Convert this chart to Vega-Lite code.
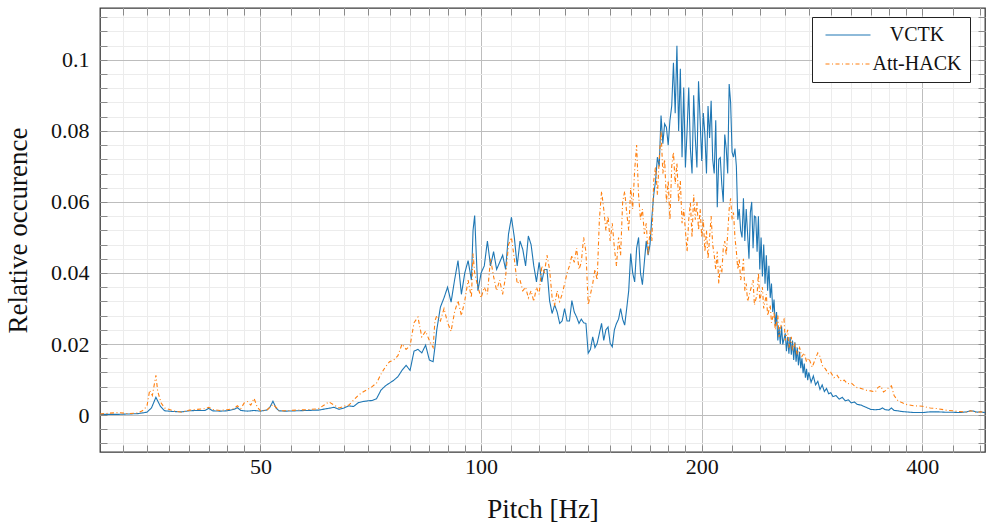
{
"$schema": "https://vega.github.io/schema/vega-lite/v6.json",
"width": 885, "height": 444,
"autosize": {"type": "none"},
"padding": {"left": 100, "top": 8, "right": 2, "bottom": 78},
"background": "white",
"config": {
  "view": {"stroke": "#3a3a3a", "strokeWidth": 1.3},
  "axis": {"domain": false, "labelFont": "Liberation Serif", "labelFontSize": 22, "labelColor": "#111", "titleFont": "Liberation Serif", "titleFontSize": 27, "titleFontWeight": "normal", "titleColor": "#111", "tickColor": "#8a8a8a", "tickWidth": 1, "gridWidth": 1}
},
"datasets": {"pitch": [
{"s":"VCTK","hz":30.2,"v":0.0002},{"s":"VCTK","hz":31,"v":0.0002},{"s":"VCTK","hz":32,"v":0.0002},{"s":"VCTK","hz":33,"v":0.0003},{"s":"VCTK","hz":34,"v":0.0004},{"s":"VCTK","hz":35,"v":0.0008},{"s":"VCTK","hz":35.5,"v":0.002},{"s":"VCTK","hz":36,"v":0.005},{"s":"VCTK","hz":36.5,"v":0.0025},{"s":"VCTK","hz":37,"v":0.0012},{"s":"VCTK","hz":38,"v":0.001},{"s":"VCTK","hz":39,"v":0.0009},{"s":"VCTK","hz":40,"v":0.0012},{"s":"VCTK","hz":41,"v":0.0013},{"s":"VCTK","hz":42,"v":0.0013},{"s":"VCTK","hz":42.5,"v":0.0019},{"s":"VCTK","hz":43,"v":0.0012},{"s":"VCTK","hz":44,"v":0.0011},{"s":"VCTK","hz":45,"v":0.0012},{"s":"VCTK","hz":46,"v":0.0016},{"s":"VCTK","hz":46.5,"v":0.0021},{"s":"VCTK","hz":47,"v":0.0013},{"s":"VCTK","hz":48,"v":0.0011},{"s":"VCTK","hz":49,"v":0.0013},{"s":"VCTK","hz":50,"v":0.0011},{"s":"VCTK","hz":51,"v":0.0014},{"s":"VCTK","hz":51.5,"v":0.0022},{"s":"VCTK","hz":52,"v":0.0039},{"s":"VCTK","hz":52.5,"v":0.002},{"s":"VCTK","hz":53,"v":0.0012},{"s":"VCTK","hz":54,"v":0.0011},{"s":"VCTK","hz":56,"v":0.0012},{"s":"VCTK","hz":58,"v":0.0013},{"s":"VCTK","hz":60,"v":0.0014},{"s":"VCTK","hz":62,"v":0.0019},{"s":"VCTK","hz":63,"v":0.0022},{"s":"VCTK","hz":64,"v":0.0016},{"s":"VCTK","hz":65,"v":0.002},{"s":"VCTK","hz":66,"v":0.0026},{"s":"VCTK","hz":67,"v":0.0024},{"s":"VCTK","hz":68,"v":0.0035},{"s":"VCTK","hz":69,"v":0.0038},{"s":"VCTK","hz":70,"v":0.004},{"s":"VCTK","hz":71,"v":0.0041},{"s":"VCTK","hz":72,"v":0.0046},{"s":"VCTK","hz":73,"v":0.007},{"s":"VCTK","hz":74,"v":0.0082},{"s":"VCTK","hz":75,"v":0.009},{"s":"VCTK","hz":76,"v":0.0098},{"s":"VCTK","hz":77,"v":0.0108},{"s":"VCTK","hz":78,"v":0.0126},{"s":"VCTK","hz":79,"v":0.014},{"s":"VCTK","hz":80,"v":0.0126},{"s":"VCTK","hz":81,"v":0.018},{"s":"VCTK","hz":82,"v":0.0185},{"s":"VCTK","hz":83,"v":0.0175},{"s":"VCTK","hz":84,"v":0.0197},{"s":"VCTK","hz":85,"v":0.0155},{"s":"VCTK","hz":86,"v":0.015},{"s":"VCTK","hz":86.5,"v":0.0192},{"s":"VCTK","hz":87,"v":0.024},{"s":"VCTK","hz":88,"v":0.0304},{"s":"VCTK","hz":89,"v":0.033},{"s":"VCTK","hz":90,"v":0.036},{"s":"VCTK","hz":91,"v":0.0318},{"s":"VCTK","hz":92,"v":0.038},{"s":"VCTK","hz":93,"v":0.0435},{"s":"VCTK","hz":94,"v":0.034},{"s":"VCTK","hz":95,"v":0.04},{"s":"VCTK","hz":96,"v":0.0435},{"s":"VCTK","hz":97,"v":0.038},{"s":"VCTK","hz":97.5,"v":0.052},{"s":"VCTK","hz":98,"v":0.0562},{"s":"VCTK","hz":98.5,"v":0.045},{"s":"VCTK","hz":99,"v":0.035},{"s":"VCTK","hz":100,"v":0.04},{"s":"VCTK","hz":101,"v":0.042},{"s":"VCTK","hz":102,"v":0.049},{"s":"VCTK","hz":103,"v":0.042},{"s":"VCTK","hz":104,"v":0.046},{"s":"VCTK","hz":105,"v":0.041},{"s":"VCTK","hz":106,"v":0.043},{"s":"VCTK","hz":107,"v":0.045},{"s":"VCTK","hz":108,"v":0.041},{"s":"VCTK","hz":109,"v":0.051},{"s":"VCTK","hz":110,"v":0.0557},{"s":"VCTK","hz":111,"v":0.05},{"s":"VCTK","hz":112,"v":0.042},{"s":"VCTK","hz":113,"v":0.049},{"s":"VCTK","hz":114,"v":0.0466},{"s":"VCTK","hz":115,"v":0.042},{"s":"VCTK","hz":116,"v":0.0504},{"s":"VCTK","hz":117,"v":0.048},{"s":"VCTK","hz":118,"v":0.042},{"s":"VCTK","hz":119,"v":0.0375},{"s":"VCTK","hz":120,"v":0.043},{"s":"VCTK","hz":121,"v":0.0375},{"s":"VCTK","hz":122,"v":0.041},{"s":"VCTK","hz":123,"v":0.041},{"s":"VCTK","hz":124,"v":0.0322},{"s":"VCTK","hz":125,"v":0.0286},{"s":"VCTK","hz":126,"v":0.031},{"s":"VCTK","hz":127,"v":0.029},{"s":"VCTK","hz":128,"v":0.0258},{"s":"VCTK","hz":129,"v":0.0265},{"s":"VCTK","hz":130,"v":0.03},{"s":"VCTK","hz":131,"v":0.0265},{"s":"VCTK","hz":132,"v":0.0265},{"s":"VCTK","hz":133,"v":0.0322},{"s":"VCTK","hz":134,"v":0.029},{"s":"VCTK","hz":135,"v":0.0276},{"s":"VCTK","hz":136,"v":0.0258},{"s":"VCTK","hz":137,"v":0.027},{"s":"VCTK","hz":138,"v":0.026},{"s":"VCTK","hz":139,"v":0.0258},{"s":"VCTK","hz":140,"v":0.0174},{"s":"VCTK","hz":141,"v":0.0185},{"s":"VCTK","hz":142,"v":0.022},{"s":"VCTK","hz":143,"v":0.019},{"s":"VCTK","hz":144,"v":0.0202},{"s":"VCTK","hz":145,"v":0.023},{"s":"VCTK","hz":146,"v":0.0258},{"s":"VCTK","hz":147,"v":0.021},{"s":"VCTK","hz":148,"v":0.024},{"s":"VCTK","hz":149,"v":0.0248},{"s":"VCTK","hz":150,"v":0.0202},{"s":"VCTK","hz":151,"v":0.0192},{"s":"VCTK","hz":152,"v":0.024},{"s":"VCTK","hz":153,"v":0.0258},{"s":"VCTK","hz":154,"v":0.027},{"s":"VCTK","hz":155,"v":0.03},{"s":"VCTK","hz":156,"v":0.027},{"s":"VCTK","hz":157,"v":0.0253},{"s":"VCTK","hz":158,"v":0.03},{"s":"VCTK","hz":159,"v":0.035},{"s":"VCTK","hz":160,"v":0.0455},{"s":"VCTK","hz":161,"v":0.04},{"s":"VCTK","hz":162,"v":0.0375},{"s":"VCTK","hz":163,"v":0.047},{"s":"VCTK","hz":164,"v":0.05},{"s":"VCTK","hz":165,"v":0.04},{"s":"VCTK","hz":166,"v":0.0367},{"s":"VCTK","hz":167,"v":0.043},{"s":"VCTK","hz":168,"v":0.049},{"s":"VCTK","hz":169,"v":0.045},{"s":"VCTK","hz":170,"v":0.048},{"s":"VCTK","hz":171,"v":0.0557},{"s":"VCTK","hz":172,"v":0.062},{"s":"VCTK","hz":173,"v":0.066},{"s":"VCTK","hz":174,"v":0.0726},{"s":"VCTK","hz":175,"v":0.07},{"s":"VCTK","hz":176,"v":0.0843},{"s":"VCTK","hz":177,"v":0.0764},{"s":"VCTK","hz":178,"v":0.082},{"s":"VCTK","hz":179,"v":0.081},{"s":"VCTK","hz":180,"v":0.076},{"s":"VCTK","hz":181,"v":0.083},{"s":"VCTK","hz":182,"v":0.087},{"s":"VCTK","hz":183,"v":0.0992},{"s":"VCTK","hz":184,"v":0.085},{"s":"VCTK","hz":185,"v":0.104},{"s":"VCTK","hz":186,"v":0.08},{"s":"VCTK","hz":187,"v":0.0975},{"s":"VCTK","hz":188,"v":0.0726},{"s":"VCTK","hz":189,"v":0.0922},{"s":"VCTK","hz":190,"v":0.0697},{"s":"VCTK","hz":191,"v":0.08},{"s":"VCTK","hz":192,"v":0.0922},{"s":"VCTK","hz":193,"v":0.075},{"s":"VCTK","hz":194,"v":0.068},{"s":"VCTK","hz":195,"v":0.09},{"s":"VCTK","hz":196,"v":0.078},{"s":"VCTK","hz":197,"v":0.0697},{"s":"VCTK","hz":198,"v":0.094},{"s":"VCTK","hz":199,"v":0.083},{"s":"VCTK","hz":200,"v":0.0715},{"s":"VCTK","hz":201,"v":0.085},{"s":"VCTK","hz":202,"v":0.079},{"s":"VCTK","hz":203,"v":0.068},{"s":"VCTK","hz":204,"v":0.087},{"s":"VCTK","hz":205,"v":0.078},{"s":"VCTK","hz":206,"v":0.0885},{"s":"VCTK","hz":207,"v":0.072},{"s":"VCTK","hz":208,"v":0.068},{"s":"VCTK","hz":209,"v":0.083},{"s":"VCTK","hz":210,"v":0.0585},{"s":"VCTK","hz":211,"v":0.072},{"s":"VCTK","hz":212,"v":0.0725},{"s":"VCTK","hz":213,"v":0.065},{"s":"VCTK","hz":214,"v":0.06},{"s":"VCTK","hz":215,"v":0.079},{"s":"VCTK","hz":216,"v":0.075},{"s":"VCTK","hz":217,"v":0.068},{"s":"VCTK","hz":218,"v":0.0932},{"s":"VCTK","hz":219,"v":0.088},{"s":"VCTK","hz":220,"v":0.074},{"s":"VCTK","hz":221,"v":0.0726},{"s":"VCTK","hz":222,"v":0.075},{"s":"VCTK","hz":223,"v":0.07},{"s":"VCTK","hz":224,"v":0.055},{"s":"VCTK","hz":225,"v":0.058},{"s":"VCTK","hz":226,"v":0.052},{"s":"VCTK","hz":227,"v":0.05},{"s":"VCTK","hz":228,"v":0.061},{"s":"VCTK","hz":229,"v":0.049},{"s":"VCTK","hz":230,"v":0.058},{"s":"VCTK","hz":231,"v":0.051},{"s":"VCTK","hz":232,"v":0.044},{"s":"VCTK","hz":233,"v":0.057},{"s":"VCTK","hz":234,"v":0.06},{"s":"VCTK","hz":235,"v":0.047},{"s":"VCTK","hz":236,"v":0.056},{"s":"VCTK","hz":237,"v":0.0557},{"s":"VCTK","hz":238,"v":0.046},{"s":"VCTK","hz":239,"v":0.056},{"s":"VCTK","hz":240,"v":0.041},{"s":"VCTK","hz":241,"v":0.05},{"s":"VCTK","hz":242,"v":0.039},{"s":"VCTK","hz":243,"v":0.048},{"s":"VCTK","hz":244,"v":0.037},{"s":"VCTK","hz":245,"v":0.045},{"s":"VCTK","hz":246,"v":0.035},{"s":"VCTK","hz":247,"v":0.042},{"s":"VCTK","hz":248,"v":0.033},{"s":"VCTK","hz":249,"v":0.037},{"s":"VCTK","hz":250,"v":0.029},{"s":"VCTK","hz":251,"v":0.0325},{"s":"VCTK","hz":252,"v":0.025},{"s":"VCTK","hz":253,"v":0.029},{"s":"VCTK","hz":254,"v":0.021},{"s":"VCTK","hz":255,"v":0.0248},{"s":"VCTK","hz":256,"v":0.02},{"s":"VCTK","hz":257,"v":0.025},{"s":"VCTK","hz":258,"v":0.0199},{"s":"VCTK","hz":260,"v":0.023},{"s":"VCTK","hz":261,"v":0.018},{"s":"VCTK","hz":262,"v":0.022},{"s":"VCTK","hz":263,"v":0.0173},{"s":"VCTK","hz":264,"v":0.022},{"s":"VCTK","hz":265,"v":0.017},{"s":"VCTK","hz":266,"v":0.021},{"s":"VCTK","hz":267,"v":0.0155},{"s":"VCTK","hz":268,"v":0.0205},{"s":"VCTK","hz":269,"v":0.015},{"s":"VCTK","hz":270,"v":0.019},{"s":"VCTK","hz":271,"v":0.014},{"s":"VCTK","hz":272,"v":0.0178},{"s":"VCTK","hz":273,"v":0.0132},{"s":"VCTK","hz":274,"v":0.016},{"s":"VCTK","hz":275,"v":0.0118},{"s":"VCTK","hz":276,"v":0.0145},{"s":"VCTK","hz":277,"v":0.0105},{"s":"VCTK","hz":278,"v":0.013},{"s":"VCTK","hz":279,"v":0.0098},{"s":"VCTK","hz":280,"v":0.012},{"s":"VCTK","hz":282,"v":0.0092},{"s":"VCTK","hz":284,"v":0.011},{"s":"VCTK","hz":286,"v":0.0085},{"s":"VCTK","hz":288,"v":0.0095},{"s":"VCTK","hz":290,"v":0.0072},{"s":"VCTK","hz":292,"v":0.0085},{"s":"VCTK","hz":294,"v":0.0066},{"s":"VCTK","hz":296,"v":0.0075},{"s":"VCTK","hz":298,"v":0.006},{"s":"VCTK","hz":300,"v":0.0063},{"s":"VCTK","hz":302,"v":0.0052},{"s":"VCTK","hz":305,"v":0.0055},{"s":"VCTK","hz":308,"v":0.0045},{"s":"VCTK","hz":311,"v":0.005},{"s":"VCTK","hz":314,"v":0.004},{"s":"VCTK","hz":317,"v":0.0043},{"s":"VCTK","hz":320,"v":0.0034},{"s":"VCTK","hz":323,"v":0.0037},{"s":"VCTK","hz":326,"v":0.003},{"s":"VCTK","hz":330,"v":0.0028},{"s":"VCTK","hz":335,"v":0.0022},{"s":"VCTK","hz":340,"v":0.0016},{"s":"VCTK","hz":345,"v":0.0015},{"s":"VCTK","hz":350,"v":0.0016},{"s":"VCTK","hz":353,"v":0.002},{"s":"VCTK","hz":356,"v":0.0015},{"s":"VCTK","hz":360,"v":0.0014},{"s":"VCTK","hz":363,"v":0.002},{"s":"VCTK","hz":366,"v":0.0013},{"s":"VCTK","hz":370,"v":0.0012},{"s":"VCTK","hz":375,"v":0.001},{"s":"VCTK","hz":380,"v":0.0009},{"s":"VCTK","hz":390,"v":0.0007},{"s":"VCTK","hz":400,"v":0.0007},{"s":"VCTK","hz":410,"v":0.0009},{"s":"VCTK","hz":420,"v":0.0009},{"s":"VCTK","hz":430,"v":0.0008},{"s":"VCTK","hz":440,"v":0.0008},{"s":"VCTK","hz":450,"v":0.0007},{"s":"VCTK","hz":460,"v":0.0009},{"s":"VCTK","hz":465,"v":0.0012},{"s":"VCTK","hz":470,"v":0.0011},{"s":"VCTK","hz":475,"v":0.0008},{"s":"VCTK","hz":480,"v":0.0009},{"s":"VCTK","hz":487,"v":0.0007},
{"s":"Att-HACK","hz":30.2,"v":0.0003},{"s":"Att-HACK","hz":31,"v":0.0005},{"s":"Att-HACK","hz":32,"v":0.0007},{"s":"Att-HACK","hz":33,"v":0.0004},{"s":"Att-HACK","hz":34,"v":0.0006},{"s":"Att-HACK","hz":34.5,"v":0.0012},{"s":"Att-HACK","hz":35,"v":0.0025},{"s":"Att-HACK","hz":35.3,"v":0.007},{"s":"Att-HACK","hz":35.6,"v":0.0055},{"s":"Att-HACK","hz":36,"v":0.0112},{"s":"Att-HACK","hz":36.2,"v":0.0067},{"s":"Att-HACK","hz":36.6,"v":0.0034},{"s":"Att-HACK","hz":37,"v":0.002},{"s":"Att-HACK","hz":38,"v":0.0012},{"s":"Att-HACK","hz":39,"v":0.0008},{"s":"Att-HACK","hz":40,"v":0.0014},{"s":"Att-HACK","hz":41,"v":0.0016},{"s":"Att-HACK","hz":42,"v":0.0018},{"s":"Att-HACK","hz":42.5,"v":0.0022},{"s":"Att-HACK","hz":43,"v":0.0016},{"s":"Att-HACK","hz":44,"v":0.0013},{"s":"Att-HACK","hz":45,"v":0.0015},{"s":"Att-HACK","hz":46,"v":0.0018},{"s":"Att-HACK","hz":46.5,"v":0.0026},{"s":"Att-HACK","hz":47,"v":0.0018},{"s":"Att-HACK","hz":47.5,"v":0.0034},{"s":"Att-HACK","hz":48,"v":0.0038},{"s":"Att-HACK","hz":48.5,"v":0.0028},{"s":"Att-HACK","hz":49,"v":0.0047},{"s":"Att-HACK","hz":49.5,"v":0.0022},{"s":"Att-HACK","hz":50,"v":0.0012},{"s":"Att-HACK","hz":51,"v":0.0014},{"s":"Att-HACK","hz":51.5,"v":0.0022},{"s":"Att-HACK","hz":52,"v":0.003},{"s":"Att-HACK","hz":52.5,"v":0.0022},{"s":"Att-HACK","hz":53,"v":0.0012},{"s":"Att-HACK","hz":54,"v":0.0012},{"s":"Att-HACK","hz":56,"v":0.0014},{"s":"Att-HACK","hz":58,"v":0.0015},{"s":"Att-HACK","hz":60,"v":0.0018},{"s":"Att-HACK","hz":62,"v":0.0037},{"s":"Att-HACK","hz":63,"v":0.0028},{"s":"Att-HACK","hz":64,"v":0.002},{"s":"Att-HACK","hz":65,"v":0.0025},{"s":"Att-HACK","hz":66,"v":0.0028},{"s":"Att-HACK","hz":67,"v":0.0042},{"s":"Att-HACK","hz":68,"v":0.0056},{"s":"Att-HACK","hz":69,"v":0.0065},{"s":"Att-HACK","hz":70,"v":0.0072},{"s":"Att-HACK","hz":71,"v":0.008},{"s":"Att-HACK","hz":72,"v":0.009},{"s":"Att-HACK","hz":73,"v":0.0115},{"s":"Att-HACK","hz":74,"v":0.0135},{"s":"Att-HACK","hz":75,"v":0.015},{"s":"Att-HACK","hz":76,"v":0.0155},{"s":"Att-HACK","hz":77,"v":0.0167},{"s":"Att-HACK","hz":78,"v":0.02},{"s":"Att-HACK","hz":79,"v":0.0185},{"s":"Att-HACK","hz":80,"v":0.0195},{"s":"Att-HACK","hz":81,"v":0.026},{"s":"Att-HACK","hz":82,"v":0.0276},{"s":"Att-HACK","hz":83,"v":0.022},{"s":"Att-HACK","hz":84,"v":0.0236},{"s":"Att-HACK","hz":85,"v":0.021},{"s":"Att-HACK","hz":86,"v":0.019},{"s":"Att-HACK","hz":86.5,"v":0.0265},{"s":"Att-HACK","hz":87,"v":0.028},{"s":"Att-HACK","hz":88,"v":0.0265},{"s":"Att-HACK","hz":89,"v":0.03},{"s":"Att-HACK","hz":90,"v":0.026},{"s":"Att-HACK","hz":91,"v":0.0236},{"s":"Att-HACK","hz":92,"v":0.029},{"s":"Att-HACK","hz":93,"v":0.0322},{"s":"Att-HACK","hz":94,"v":0.028},{"s":"Att-HACK","hz":95,"v":0.0322},{"s":"Att-HACK","hz":96,"v":0.038},{"s":"Att-HACK","hz":97,"v":0.033},{"s":"Att-HACK","hz":97.5,"v":0.0455},{"s":"Att-HACK","hz":98,"v":0.04},{"s":"Att-HACK","hz":99,"v":0.036},{"s":"Att-HACK","hz":100,"v":0.033},{"s":"Att-HACK","hz":101,"v":0.036},{"s":"Att-HACK","hz":102,"v":0.034},{"s":"Att-HACK","hz":103,"v":0.044},{"s":"Att-HACK","hz":104,"v":0.039},{"s":"Att-HACK","hz":105,"v":0.035},{"s":"Att-HACK","hz":106,"v":0.038},{"s":"Att-HACK","hz":107,"v":0.034},{"s":"Att-HACK","hz":108,"v":0.039},{"s":"Att-HACK","hz":109,"v":0.048},{"s":"Att-HACK","hz":110,"v":0.05},{"s":"Att-HACK","hz":111,"v":0.044},{"s":"Att-HACK","hz":112,"v":0.037},{"s":"Att-HACK","hz":113,"v":0.038},{"s":"Att-HACK","hz":114,"v":0.035},{"s":"Att-HACK","hz":115,"v":0.036},{"s":"Att-HACK","hz":116,"v":0.033},{"s":"Att-HACK","hz":117,"v":0.035},{"s":"Att-HACK","hz":118,"v":0.032},{"s":"Att-HACK","hz":119,"v":0.036},{"s":"Att-HACK","hz":120,"v":0.034},{"s":"Att-HACK","hz":121,"v":0.042},{"s":"Att-HACK","hz":122,"v":0.04},{"s":"Att-HACK","hz":123,"v":0.045},{"s":"Att-HACK","hz":124,"v":0.041},{"s":"Att-HACK","hz":125,"v":0.033},{"s":"Att-HACK","hz":126,"v":0.031},{"s":"Att-HACK","hz":127,"v":0.035},{"s":"Att-HACK","hz":128,"v":0.032},{"s":"Att-HACK","hz":129,"v":0.034},{"s":"Att-HACK","hz":130,"v":0.037},{"s":"Att-HACK","hz":131,"v":0.04},{"s":"Att-HACK","hz":132,"v":0.042},{"s":"Att-HACK","hz":133,"v":0.045},{"s":"Att-HACK","hz":134,"v":0.043},{"s":"Att-HACK","hz":135,"v":0.047},{"s":"Att-HACK","hz":136,"v":0.041},{"s":"Att-HACK","hz":137,"v":0.043},{"s":"Att-HACK","hz":138,"v":0.05},{"s":"Att-HACK","hz":139,"v":0.046},{"s":"Att-HACK","hz":140,"v":0.031},{"s":"Att-HACK","hz":141,"v":0.034},{"s":"Att-HACK","hz":142,"v":0.037},{"s":"Att-HACK","hz":143,"v":0.041},{"s":"Att-HACK","hz":144,"v":0.038},{"s":"Att-HACK","hz":145,"v":0.055},{"s":"Att-HACK","hz":146,"v":0.063},{"s":"Att-HACK","hz":147,"v":0.058},{"s":"Att-HACK","hz":148,"v":0.052},{"s":"Att-HACK","hz":149,"v":0.056},{"s":"Att-HACK","hz":150,"v":0.049},{"s":"Att-HACK","hz":151,"v":0.054},{"s":"Att-HACK","hz":152,"v":0.047},{"s":"Att-HACK","hz":153,"v":0.042},{"s":"Att-HACK","hz":154,"v":0.05},{"s":"Att-HACK","hz":155,"v":0.045},{"s":"Att-HACK","hz":156,"v":0.06},{"s":"Att-HACK","hz":157,"v":0.063},{"s":"Att-HACK","hz":158,"v":0.057},{"s":"Att-HACK","hz":159,"v":0.052},{"s":"Att-HACK","hz":160,"v":0.064},{"s":"Att-HACK","hz":161,"v":0.058},{"s":"Att-HACK","hz":162,"v":0.069},{"s":"Att-HACK","hz":163,"v":0.076},{"s":"Att-HACK","hz":164,"v":0.062},{"s":"Att-HACK","hz":165,"v":0.055},{"s":"Att-HACK","hz":166,"v":0.058},{"s":"Att-HACK","hz":167,"v":0.051},{"s":"Att-HACK","hz":168,"v":0.054},{"s":"Att-HACK","hz":169,"v":0.045},{"s":"Att-HACK","hz":170,"v":0.052},{"s":"Att-HACK","hz":171,"v":0.049},{"s":"Att-HACK","hz":172,"v":0.066},{"s":"Att-HACK","hz":173,"v":0.07},{"s":"Att-HACK","hz":174,"v":0.062},{"s":"Att-HACK","hz":175,"v":0.072},{"s":"Att-HACK","hz":176,"v":0.08},{"s":"Att-HACK","hz":177,"v":0.068},{"s":"Att-HACK","hz":178,"v":0.072},{"s":"Att-HACK","hz":179,"v":0.06},{"s":"Att-HACK","hz":180,"v":0.066},{"s":"Att-HACK","hz":181,"v":0.055},{"s":"Att-HACK","hz":182,"v":0.07},{"s":"Att-HACK","hz":183,"v":0.074},{"s":"Att-HACK","hz":184,"v":0.065},{"s":"Att-HACK","hz":185,"v":0.071},{"s":"Att-HACK","hz":186,"v":0.06},{"s":"Att-HACK","hz":187,"v":0.066},{"s":"Att-HACK","hz":188,"v":0.054},{"s":"Att-HACK","hz":189,"v":0.058},{"s":"Att-HACK","hz":190,"v":0.052},{"s":"Att-HACK","hz":191,"v":0.046},{"s":"Att-HACK","hz":192,"v":0.055},{"s":"Att-HACK","hz":193,"v":0.06},{"s":"Att-HACK","hz":194,"v":0.05},{"s":"Att-HACK","hz":195,"v":0.062},{"s":"Att-HACK","hz":196,"v":0.055},{"s":"Att-HACK","hz":197,"v":0.06},{"s":"Att-HACK","hz":198,"v":0.052},{"s":"Att-HACK","hz":199,"v":0.058},{"s":"Att-HACK","hz":200,"v":0.05},{"s":"Att-HACK","hz":201,"v":0.055},{"s":"Att-HACK","hz":202,"v":0.046},{"s":"Att-HACK","hz":203,"v":0.052},{"s":"Att-HACK","hz":204,"v":0.044},{"s":"Att-HACK","hz":205,"v":0.05},{"s":"Att-HACK","hz":206,"v":0.056},{"s":"Att-HACK","hz":207,"v":0.048},{"s":"Att-HACK","hz":208,"v":0.045},{"s":"Att-HACK","hz":209,"v":0.041},{"s":"Att-HACK","hz":210,"v":0.046},{"s":"Att-HACK","hz":211,"v":0.037},{"s":"Att-HACK","hz":212,"v":0.042},{"s":"Att-HACK","hz":213,"v":0.04},{"s":"Att-HACK","hz":214,"v":0.047},{"s":"Att-HACK","hz":215,"v":0.049},{"s":"Att-HACK","hz":216,"v":0.045},{"s":"Att-HACK","hz":217,"v":0.051},{"s":"Att-HACK","hz":218,"v":0.058},{"s":"Att-HACK","hz":219,"v":0.061},{"s":"Att-HACK","hz":220,"v":0.055},{"s":"Att-HACK","hz":221,"v":0.057},{"s":"Att-HACK","hz":222,"v":0.05},{"s":"Att-HACK","hz":223,"v":0.046},{"s":"Att-HACK","hz":224,"v":0.041},{"s":"Att-HACK","hz":225,"v":0.044},{"s":"Att-HACK","hz":226,"v":0.038},{"s":"Att-HACK","hz":227,"v":0.04},{"s":"Att-HACK","hz":228,"v":0.044},{"s":"Att-HACK","hz":229,"v":0.035},{"s":"Att-HACK","hz":230,"v":0.037},{"s":"Att-HACK","hz":231,"v":0.032},{"s":"Att-HACK","hz":233,"v":0.035},{"s":"Att-HACK","hz":235,"v":0.038},{"s":"Att-HACK","hz":236,"v":0.031},{"s":"Att-HACK","hz":238,"v":0.034},{"s":"Att-HACK","hz":239,"v":0.04},{"s":"Att-HACK","hz":240,"v":0.032},{"s":"Att-HACK","hz":242,"v":0.036},{"s":"Att-HACK","hz":243,"v":0.03},{"s":"Att-HACK","hz":245,"v":0.034},{"s":"Att-HACK","hz":246,"v":0.028},{"s":"Att-HACK","hz":248,"v":0.031},{"s":"Att-HACK","hz":249,"v":0.026},{"s":"Att-HACK","hz":251,"v":0.029},{"s":"Att-HACK","hz":252,"v":0.024},{"s":"Att-HACK","hz":254,"v":0.028},{"s":"Att-HACK","hz":255,"v":0.022},{"s":"Att-HACK","hz":257,"v":0.026},{"s":"Att-HACK","hz":259,"v":0.027},{"s":"Att-HACK","hz":260,"v":0.021},{"s":"Att-HACK","hz":262,"v":0.024},{"s":"Att-HACK","hz":263,"v":0.019},{"s":"Att-HACK","hz":265,"v":0.022},{"s":"Att-HACK","hz":266,"v":0.018},{"s":"Att-HACK","hz":268,"v":0.02},{"s":"Att-HACK","hz":270,"v":0.017},{"s":"Att-HACK","hz":272,"v":0.019},{"s":"Att-HACK","hz":274,"v":0.0165},{"s":"Att-HACK","hz":276,"v":0.0175},{"s":"Att-HACK","hz":278,"v":0.015},{"s":"Att-HACK","hz":280,"v":0.016},{"s":"Att-HACK","hz":283,"v":0.0135},{"s":"Att-HACK","hz":286,"v":0.016},{"s":"Att-HACK","hz":288,"v":0.0175},{"s":"Att-HACK","hz":290,"v":0.0165},{"s":"Att-HACK","hz":292,"v":0.014},{"s":"Att-HACK","hz":295,"v":0.013},{"s":"Att-HACK","hz":298,"v":0.0115},{"s":"Att-HACK","hz":300,"v":0.012},{"s":"Att-HACK","hz":303,"v":0.0105},{"s":"Att-HACK","hz":306,"v":0.0112},{"s":"Att-HACK","hz":310,"v":0.0095},{"s":"Att-HACK","hz":313,"v":0.0098},{"s":"Att-HACK","hz":316,"v":0.0088},{"s":"Att-HACK","hz":320,"v":0.009},{"s":"Att-HACK","hz":325,"v":0.0078},{"s":"Att-HACK","hz":330,"v":0.0075},{"s":"Att-HACK","hz":335,"v":0.007},{"s":"Att-HACK","hz":340,"v":0.0068},{"s":"Att-HACK","hz":345,"v":0.0065},{"s":"Att-HACK","hz":348,"v":0.0078},{"s":"Att-HACK","hz":351,"v":0.0082},{"s":"Att-HACK","hz":354,"v":0.0065},{"s":"Att-HACK","hz":357,"v":0.007},{"s":"Att-HACK","hz":360,"v":0.0078},{"s":"Att-HACK","hz":363,"v":0.0082},{"s":"Att-HACK","hz":366,"v":0.0055},{"s":"Att-HACK","hz":370,"v":0.0042},{"s":"Att-HACK","hz":375,"v":0.0035},{"s":"Att-HACK","hz":380,"v":0.003},{"s":"Att-HACK","hz":390,"v":0.0026},{"s":"Att-HACK","hz":400,"v":0.0025},{"s":"Att-HACK","hz":410,"v":0.002},{"s":"Att-HACK","hz":420,"v":0.0018},{"s":"Att-HACK","hz":430,"v":0.0014},{"s":"Att-HACK","hz":440,"v":0.0012},{"s":"Att-HACK","hz":450,"v":0.001},{"s":"Att-HACK","hz":460,"v":0.0008},{"s":"Att-HACK","hz":465,"v":0.0012},{"s":"Att-HACK","hz":470,"v":0.001},{"s":"Att-HACK","hz":475,"v":0.0007},{"s":"Att-HACK","hz":480,"v":0.0009},{"s":"Att-HACK","hz":487,"v":0.0008}
]},
"data": {"name": "pitch"},
"resolve": {"axis": {"x": "independent", "y": "independent"}},
"layer": [
  {
    "mark": {"type": "point", "opacity": 0},
    "encoding": {
      "x": {"field": "hz", "type": "quantitative", "scale": {"type": "log", "domain": [30.2, 487], "nice": false},
        "axis": {"orient": "bottom", "values": [32.5,35,37.5,40,42.5,45,47.5,55,60,65,70,75,80,85,90,95,110,120,130,140,150,160,170,180,190,220,240,260,280,300,320,340,360,380,440,480], "grid": true, "gridColor": "#ececec", "ticks": true, "tickSize": -7, "labels": false, "title": null}},
      "y": {"field": "v", "type": "quantitative", "scale": {"domain": [-0.0104, 0.1146], "nice": false, "zero": false},
        "axis": {"orient": "left", "values": [-0.008,-0.004,0.004,0.008,0.012,0.016,0.024,0.028,0.032,0.036,0.044,0.048,0.052,0.056,0.064,0.068,0.072,0.076,0.084,0.088,0.092,0.096,0.104,0.108,0.112], "grid": true, "gridColor": "#ececec", "ticks": true, "tickSize": -7, "labels": false, "title": null}}
    }
  },
  {
    "mark": {"type": "point", "opacity": 0},
    "encoding": {
      "x": {"field": "hz", "type": "quantitative", "scale": {"type": "log", "domain": [30.2, 487], "nice": false},
        "axis": {"orient": "top", "values": [32.5,35,37.5,40,42.5,45,47.5,50,55,60,65,70,75,80,85,90,95,100,110,120,130,140,150,160,170,180,190,200,220,240,260,280,300,320,340,360,380,400,440,480], "grid": false, "ticks": true, "tickSize": -7, "labels": false, "title": null}},
      "y": {"field": "v", "type": "quantitative", "scale": {"domain": [-0.0104, 0.1146], "nice": false, "zero": false},
        "axis": {"orient": "right", "values": [-0.008,-0.004,0,0.004,0.008,0.012,0.016,0.02,0.024,0.028,0.032,0.036,0.04,0.044,0.048,0.052,0.056,0.06,0.064,0.068,0.072,0.076,0.08,0.084,0.088,0.092,0.096,0.1,0.104,0.108,0.112], "grid": false, "ticks": true, "tickSize": -7, "labels": false, "title": null}}
    }
  },
  {
    "mark": {"type": "line", "strokeWidth": 1.1, "clip": true},
    "encoding": {
      "x": {"field": "hz", "type": "quantitative", "scale": {"type": "log", "domain": [30.2, 487], "nice": false},
        "axis": {"orient": "bottom", "values": [50,100,200,400], "format": "d", "grid": true, "gridColor": "#bdbdbd", "ticks": true, "tickSize": -7, "labelPadding": 11, "title": "Pitch [Hz]", "titlePadding": 19}},
      "y": {"field": "v", "type": "quantitative", "scale": {"domain": [-0.0104, 0.1146], "nice": false, "zero": false},
        "axis": {"orient": "left", "values": [0,0.02,0.04,0.06,0.08,0.1], "labelExpr": "datum.value == 0 ? '0' : format(datum.value, '.2~f')", "grid": true, "gridColor": "#bdbdbd", "ticks": true, "tickSize": -7, "labelPadding": 18, "title": "Relative occurence", "titlePadding": 18}},
      "color": {"field": "s", "type": "nominal", "scale": {"domain": ["VCTK","Att-HACK"], "range": ["#1f77b4","#ff7f0e"]},
        "legend": {"title": null, "orient": "none", "legendX": 712, "legendY": 9, "direction": "vertical", "symbolType": "M-1,0H9", "symbolSize": 81, "symbolStrokeWidth": 1.2, "labelFont": "Liberation Serif", "labelFontSize": 20, "labelColor": "#111", "labelAlign": "center", "labelOffset": 77, "labelLimit": 300, "padding": 8, "rowPadding": 9, "strokeColor": "#222", "fillColor": "white"}},
      "strokeDash": {"field": "s", "type": "nominal", "scale": {"domain": ["VCTK","Att-HACK"], "range": [[1,0],[4,2.5,1,2.5]]},
        "legend": {"title": null, "orient": "none", "legendX": 712, "legendY": 9, "direction": "vertical", "symbolType": "M-1,0H9", "symbolSize": 81, "symbolStrokeWidth": 1.2, "labelFont": "Liberation Serif", "labelFontSize": 20, "labelColor": "#111", "labelAlign": "center", "labelOffset": 77, "labelLimit": 300, "padding": 8, "rowPadding": 9, "strokeColor": "#222", "fillColor": "white"}}
    }
  }
]
}
